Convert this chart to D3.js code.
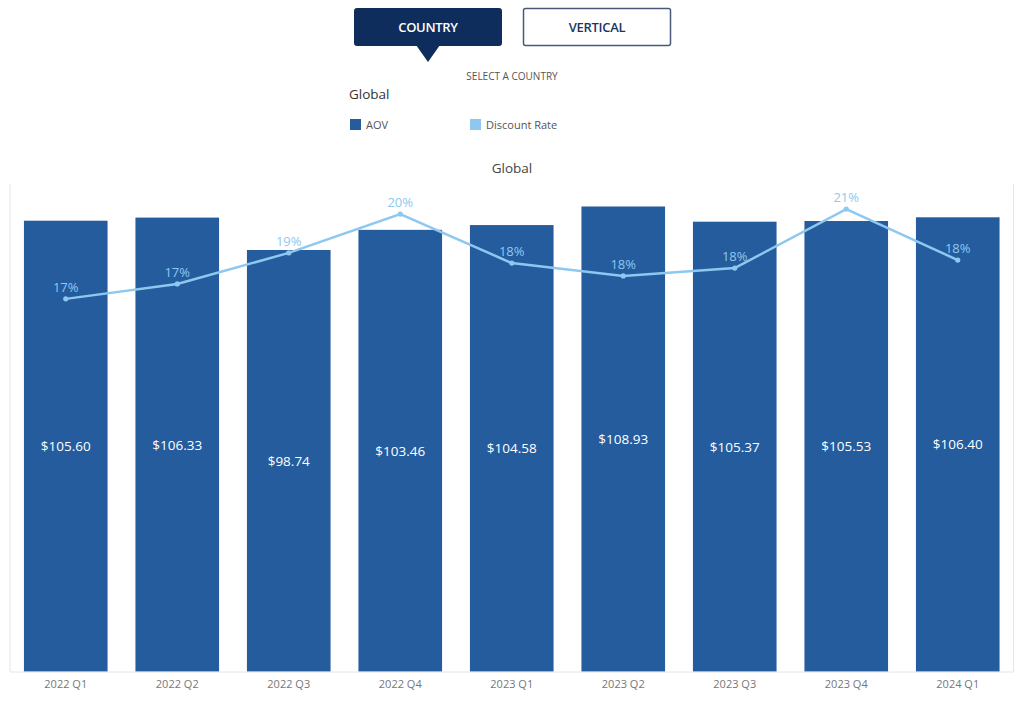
<!DOCTYPE html>
<html>
<head>
<meta charset="utf-8">
<script src="https://cdn.jsdelivr.net/npm/d3@7"></script>
<style>
html,body{margin:0;padding:0;background:#fff;}
svg{display:block;font-family:"Open Sans","Noto Sans",sans-serif;}
</style>
</head>
<body>
<svg id="chart" width="1024" height="702"></svg>
<script>
const categories = ["2022 Q1","2022 Q2","2022 Q3","2022 Q4","2023 Q1","2023 Q2","2023 Q3","2023 Q4","2024 Q1"];
const aovValues = [105.60,106.33,98.74,103.46,104.58,108.93,105.37,105.53,106.40];
const discountRates = [0.1669,0.1734,0.1869,0.2038,0.1825,0.1769,0.1803,0.2060,0.1838];
const legendLabels = ["AOV","Discount Rate"];
const buttonLabels = ["COUNTRY","VERTICAL"];
const chartTitle = "Global";

(function(){
const svg = d3.select("#chart");
const barColor = "#245c9e", lineColor = "#8ec8f0";

// header buttons
const btn = [{x:354, fill:"#0f2d5c", stroke:"#0f2d5c", tc:"#fff"},{x:523, fill:"#fff", stroke:"#4a5a78", tc:"#1d3461"}];
buttonLabels.forEach((t,i)=>{
  const b = btn[i];
  svg.append("rect").attr("x",b.x+0.5).attr("y",8.5).attr("width",147).attr("height",37).attr("rx",2)
    .attr("fill",b.fill).attr("stroke",b.stroke).attr("stroke-width",i===1?1.5:1);
  svg.append("text").attr("x",b.x+74).attr("y",32).attr("text-anchor","middle")
    .attr("fill",b.tc).attr("font-size",13).attr("font-weight",600).attr("letter-spacing",-0.3).text(t);
});
svg.append("path").attr("d","M416,45 L440,45 L428,62 Z").attr("fill","#0f2d5c");
svg.append("text").attr("x",512).attr("y",80).attr("text-anchor","middle").attr("font-size",10).attr("fill","#555").text("SELECT A COUNTRY");
svg.append("text").attr("x",349).attr("y",99).attr("font-size",13.5).attr("fill","#333").text("Global");
[[350,barColor],[470,lineColor]].forEach((d,i)=>{
  svg.append("rect").attr("x",d[0]).attr("y",119).attr("width",11).attr("height",11).attr("fill",d[1]);
  svg.append("text").attr("x",d[0]+16).attr("y",129).attr("font-size",11).attr("fill","#555").text(legendLabels[i]);
});

// chart
svg.append("text").attr("x",512).attr("y",173).attr("text-anchor","middle").attr("font-size",13.5).attr("font-weight",500).attr("fill","#444").text(chartTitle);

const pL=10, pR=1013.5, pT=184, pB=671.5;
const x = d3.scaleBand().domain(categories).range([pL,pR]).paddingInner(0.25).paddingOuter(0.125);
const y = d3.scaleLinear().domain([0,114.2]).range([pB,pT]);
const y2 = d3.scaleLinear().domain([0.0047,0.2169]).range([pB,pT]);

svg.append("line").attr("x1",pL).attr("x2",pL).attr("y1",pT).attr("y2",pB).attr("stroke","#e4e4e4");
svg.append("line").attr("x1",pR).attr("x2",pR).attr("y1",pT).attr("y2",pB).attr("stroke","#e4e4e4");

svg.selectAll("rect.bar").data(categories).enter().append("rect").attr("class","bar")
  .attr("x",d=>x(d)).attr("width",x.bandwidth())
  .attr("y",(d,i)=>y(aovValues[i])).attr("height",(d,i)=>y(0)-y(aovValues[i]))
  .attr("fill",barColor);

svg.selectAll("text.bl").data(categories).enter().append("text").attr("class","bl")
  .attr("x",d=>x(d)+x.bandwidth()/2).attr("y",(d,i)=>(y(aovValues[i])+y(0))/2+5)
  .attr("text-anchor","middle").attr("fill","#fff").attr("font-size",13.5)
  .text((d,i)=>"$"+aovValues[i].toFixed(2));

// x axis
const xAxis = d3.axisBottom(x).tickSize(0).tickPadding(9);
const gx = svg.append("g").attr("transform",`translate(0,${pB})`).call(xAxis);
gx.select(".domain").attr("stroke","#ccc").attr("stroke-dasharray","1,1");
gx.selectAll("text").attr("font-size",11).attr("fill","#777").attr("font-family","'Open Sans','Noto Sans',sans-serif");

// line
const cx = d=>x(d)+x.bandwidth()/2;
const line = d3.line().x((d,i)=>cx(categories[i])).y(d=>y2(d));
svg.append("path").datum(discountRates).attr("d",line).attr("fill","none").attr("stroke",lineColor).attr("stroke-width",2.5);
svg.selectAll("circle.pt").data(discountRates).enter().append("circle").attr("class","pt")
  .attr("cx",(d,i)=>cx(categories[i])).attr("cy",d=>y2(d)).attr("r",2.6).attr("fill",lineColor);
svg.selectAll("text.pl").data(discountRates).enter().append("text").attr("class","pl")
  .attr("x",(d,i)=>cx(categories[i])).attr("y",d=>y2(d)-7)
  .attr("text-anchor","middle").attr("font-size",13).attr("fill",lineColor)
  .text(d=>d3.format(".0%")(d));
})();
</script>
</body>
</html>
